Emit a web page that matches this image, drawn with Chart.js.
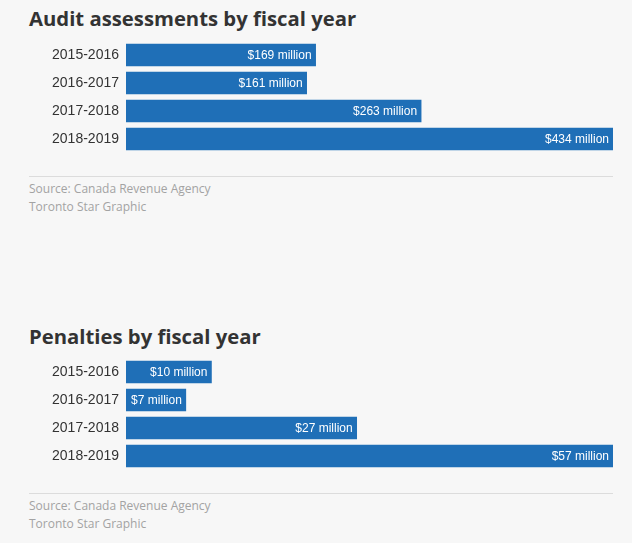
<!DOCTYPE html>
<html>
<head>
<meta charset="utf-8">
<script src="https://cdn.jsdelivr.net/npm/chart.js@4"></script>
<style>
  body { margin: 0; background: #f7f7f7; width: 632px; height: 543px; position: relative; overflow: hidden; }
  .title { position: absolute; left: 29px; font: 700 20.3px/19px "Open Sans"; color: #333; white-space: nowrap; }
  .src { position: absolute; left: 29px; font: 12px/18px "Open Sans"; color: #a3a3a3; white-space: nowrap; }
  .rule { position: absolute; left: 29px; width: 584px; height: 1px; background: #dcdcdc; }
  .box { position: absolute; left: 0; width: 632px; height: 112px; }
</style>
</head>
<body>
<div class="title" style="top:9px">Audit assessments by fiscal year</div>
<div class="box" style="top:41px"><canvas id="chart1"></canvas></div>
<div class="rule" style="top:176px"></div>
<div class="src" style="top:180px">Source: Canada Revenue Agency<br>Toronto Star Graphic</div>

<div class="title" style="top:327px">Penalties by fiscal year</div>
<div class="box" style="top:358px"><canvas id="chart2"></canvas></div>
<div class="rule" style="top:493px"></div>
<div class="src" style="top:497px">Source: Canada Revenue Agency<br>Toronto Star Graphic</div>

<script>
const years = ["2015-2016", "2016-2017", "2017-2018", "2018-2019"];
const assessments = [169, 161, 263, 434];
const penalties = [10, 7, 27, 57];

// white "$N million" inside the end of each bar
const barLabels = {
  id: "barLabels",
  afterDatasetsDraw(chart) {
    const c = chart.ctx;
    const meta = chart.getDatasetMeta(0);
    c.save();
    c.fillStyle = "#fff";
    c.font = "12px 'Liberation Sans', Arial, sans-serif";
    c.textAlign = "right";
    c.textBaseline = "middle";
    meta.data.forEach((bar, i) => {
      c.fillText("$" + chart.data.datasets[0].data[i] + " million", bar.x - 4, bar.y + 1);
    });
    c.restore();
  },
};

const makeChart = (id, values) => {
  new Chart(document.getElementById(id), {
    type: "bar",
    data: {
      labels: years,
      datasets: [
        {
          data: values,
          backgroundColor: "#1f6fb7",
          barThickness: 22,
        },
      ],
    },
    options: {
      indexAxis: "y",
      responsive: true,
      maintainAspectRatio: false,
      animation: false,
      layout: { padding: { left: 0, right: 19, top: 0, bottom: 0 } },
      plugins: { legend: { display: false }, tooltip: { enabled: false } },
      scales: {
        x: { display: false, min: 0, max: Math.max(...values) },
        y: {
          grid: { display: false, drawTicks: false, tickLength: 0 },
          border: { display: false },
          ticks: {
            color: "#333",
            padding: 7,
            font: { family: "'Liberation Sans', Arial, sans-serif", size: 14 },
          },
          afterFit: (scale) => {
            scale.width = 126;
            scale.paddingTop = 0;
            scale.paddingBottom = 0;
          },
        },
      },
    },
    plugins: [barLabels],
  });
};

makeChart("chart1", assessments);
makeChart("chart2", penalties);
</script>
</body>
</html>
